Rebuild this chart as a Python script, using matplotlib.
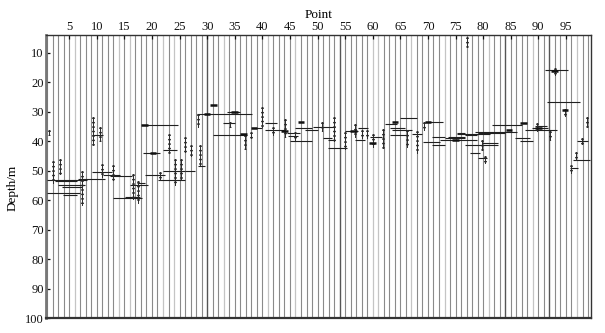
import matplotlib
matplotlib.use("Agg")
import matplotlib.pyplot as plt

# ---------------- data ----------------
trace_points = list(range(1, 100))
light_traces = [6, 14, 16, 22, 24, 33, 41, 46, 60, 61, 67, 73, 81, 89, 97]
dark_traces = [30, 54, 84, 92]
x_ticks = [5, 10, 15, 20, 25, 30, 35, 40, 45, 50, 55, 60, 65, 70, 75, 80, 85, 90, 95]
y_ticks = [10, 20, 30, 40, 50, 60, 70, 80, 90, 100]

# horizontal reflection events: depth (m), start point, end point
event_depth = [53.0, 53.4, 54.7, 55.5, 57.6, 58.1, 50.5, 52.7, 51.4, 51.9,
               59.3, 58.8, 54.7, 54.3, 34.4, 44.0, 42.9, 37.8, 51.6, 50.2,
               53.0, 50.2, 48.5,
               30.8, 29.9, 33.8, 37.8, 35.4, 33.8, 36.1, 37.2, 38.3, 39.8,
               35.5, 36.1, 35.0, 38.9, 39.4, 42.3, 36.4, 39.5, 35.5, 38.7,
               34.2, 35.5, 36.1, 32.1, 37.8, 37.6, 40.1, 41.2, 38.7, 39.0,
               38.5, 37.2, 33.5, 39.5,
               34.4, 36.7, 37.2, 37.8, 37.6, 38.9, 40.0, 41.2, 40.6, 44.0,
               45.7, 36.3, 35.5, 34.7, 40.0, 46.3, 15.8, 26.5, 49.2]
event_start = [1.0, 2.4, 3.0, 3.7, 1.0, 3.9, 9.2, 6.6, 11.1, 12.4,
               13.0, 15.1, 16.0, 17.2, 18.2, 18.4, 22.0, 9.2, 18.8, 22.0,
               21.1, 26.0, 28.4,
               28.2, 33.6, 32.9, 31.1, 38.1, 40.5, 40.5, 44.5, 44.7, 45.0,
               45.9, 47.7, 49.2, 50.9, 51.8, 51.9, 55.0, 56.8, 57.3, 59.5,
               62.2, 63.1, 63.5, 64.9, 63.1, 67.1, 69.1, 70.7, 70.7, 73.1,
               73.6, 75.3, 69.5, 72.2,
               81.6, 78.5, 79.1, 76.7, 75.3, 85.8, 86.7, 76.7, 79.8, 77.6,
               79.1, 87.6, 88.9, 89.4, 97.0, 96.3, 91.2, 91.6, 95.7]
event_end = [8.2, 6.4, 7.9, 7.3, 7.0, 6.4, 12.8, 11.5, 14.2, 16.4,
             18.2, 17.8, 19.3, 18.7, 24.7, 21.5, 24.5, 11.1, 22.4, 26.0,
             26.0, 27.8, 29.6,
             38.1, 36.0, 35.1, 37.2, 39.9, 42.7, 44.1, 46.8, 46.5, 49.0,
             49.0, 50.1, 53.2, 52.7, 53.2, 55.3, 57.3, 58.6, 59.2, 61.7,
             64.4, 65.9, 67.1, 68.0, 66.4, 68.9, 72.2, 73.1, 73.1, 76.7,
             76.7, 76.7, 72.7, 78.9,
             87.1, 86.1, 83.9, 78.9, 81.3, 88.5, 89.0, 82.7, 82.7, 79.4,
             80.7, 93.4, 91.8, 91.6, 99.0, 99.4, 95.4, 97.6, 97.2]

# strong compact reflections (blobs): point, depth
blob_point = [31.1, 30.0, 35.0, 36.6, 20.2, 18.7, 47.0, 56.5, 60.0, 64.0,
              70.0, 84.7, 92.9, 94.8, 87.3, 38.5, 44.0, 75.0, 90.0]
blob_depth = [27.6, 30.8, 29.9, 37.6, 44.0, 34.4, 33.3, 36.4, 40.6, 33.3,
              33.3, 36.1, 16.3, 29.3, 33.8, 35.5, 36.5, 39.5, 35.5]

# wiggle clusters along a trace: point, top depth, bottom depth
wig_point = [2.0, 3.4, 7.3, 11.0, 13.0, 16.6, 17.5, 21.5, 24.2, 25.2,
             9.4, 10.5, 23.0, 1.3, 26.0, 27.0, 28.4, 28.7,
             34.1, 36.9, 38.0, 40.0, 41.9, 44.1, 45.9, 50.8, 53.0, 55.0,
             56.8, 58.0, 58.9, 60.0, 61.9, 66.2, 68.0, 69.3,
             79.8, 80.4, 89.7, 92.1, 94.8, 96.9, 96.0, 97.9, 98.8, 93.0, 77.1]
wig_top = [46.8, 46.0, 50.2, 47.8, 48.0, 51.0, 53.5, 50.5, 46.0, 46.0,
           31.6, 35.0, 37.5, 36.0, 38.5, 41.2, 30.8, 41.2,
           33.3, 37.8, 37.0, 28.5, 35.3, 32.5, 37.0, 33.3, 31.9, 37.0,
           34.0, 36.0, 36.0, 37.5, 35.9, 36.1, 36.5, 33.3,
           39.5, 45.0, 33.8, 36.5, 29.0, 43.6, 48.0, 39.0, 31.6, 15.0, 4.5]
wig_bot = [54.2, 51.0, 61.5, 52.0, 53.0, 59.5, 61.0, 53.0, 55.0, 53.0,
           41.2, 40.0, 44.0, 38.0, 43.5, 45.1, 35.1, 48.0,
           35.1, 42.7, 39.0, 35.3, 37.9, 38.5, 39.5, 36.5, 39.8, 42.7,
           38.5, 38.9, 39.0, 41.9, 42.3, 41.9, 43.9, 36.0,
           42.9, 47.5, 36.5, 39.5, 31.3, 46.3, 50.8, 41.0, 35.0, 17.5, 8.0]

# ---------------- figure ----------------
plt.rcParams['font.family'] = ['Liberation Serif', 'DejaVu Serif']
fig = plt.figure(figsize=(6.05, 3.33), dpi=100)
ax = fig.add_axes([0.076, 0.045, 0.901, 0.850])

for p in trace_points:
    if p in dark_traces:
        col, lw = '#555555', 1.0
    elif p in light_traces:
        col, lw = '#c4c4c4', 0.9
    else:
        col, lw = '#8a8a8a', 0.8
    ax.axvline(p, color=col, lw=lw, zorder=1)

ax.hlines(event_depth, event_start, event_end, colors='#1f1f1f', lw=0.8, zorder=3)

for p, t, b in zip(wig_point, wig_top, wig_bot):
    ax.plot([p, p], [t, b], color='#2a2a2a', lw=0.7, zorder=4)
    ax.plot([p, p], [t, b], color='#2a2a2a', lw=2.0, ls=(0, (0.5, 1.1)),
            solid_capstyle='butt', dash_capstyle='butt', zorder=4)

for p, d in zip(blob_point, blob_depth):
    ax.plot([p - 0.6, p + 0.6], [d, d], color='#111111', lw=1.8,
            solid_capstyle='butt', zorder=5)

ax.set_xlim(0.8, 99.55)
ax.set_ylim(100, 3.9)
ax.xaxis.tick_top()
ax.xaxis.set_label_position('top')
ax.set_xticks(x_ticks)
ax.set_yticks(y_ticks)
ax.tick_params(axis='both', direction='in', length=3, width=0.9,
               labelsize=9, pad=1.5, colors='#111111')
ax.set_xlabel('Point', fontsize=9.5, labelpad=2)
ax.set_ylabel('Depth/m', fontsize=9.5)
ax.yaxis.set_label_coords(-0.05, 0.46)
for s in ax.spines.values():
    s.set_color('#333333')
    s.set_linewidth(1.0)
ax.spines['bottom'].set_linewidth(1.6)
ax.spines['left'].set_color('#777777')
ax.spines['left'].set_linewidth(2.0)

fig.savefig('out.png', dpi=100)
